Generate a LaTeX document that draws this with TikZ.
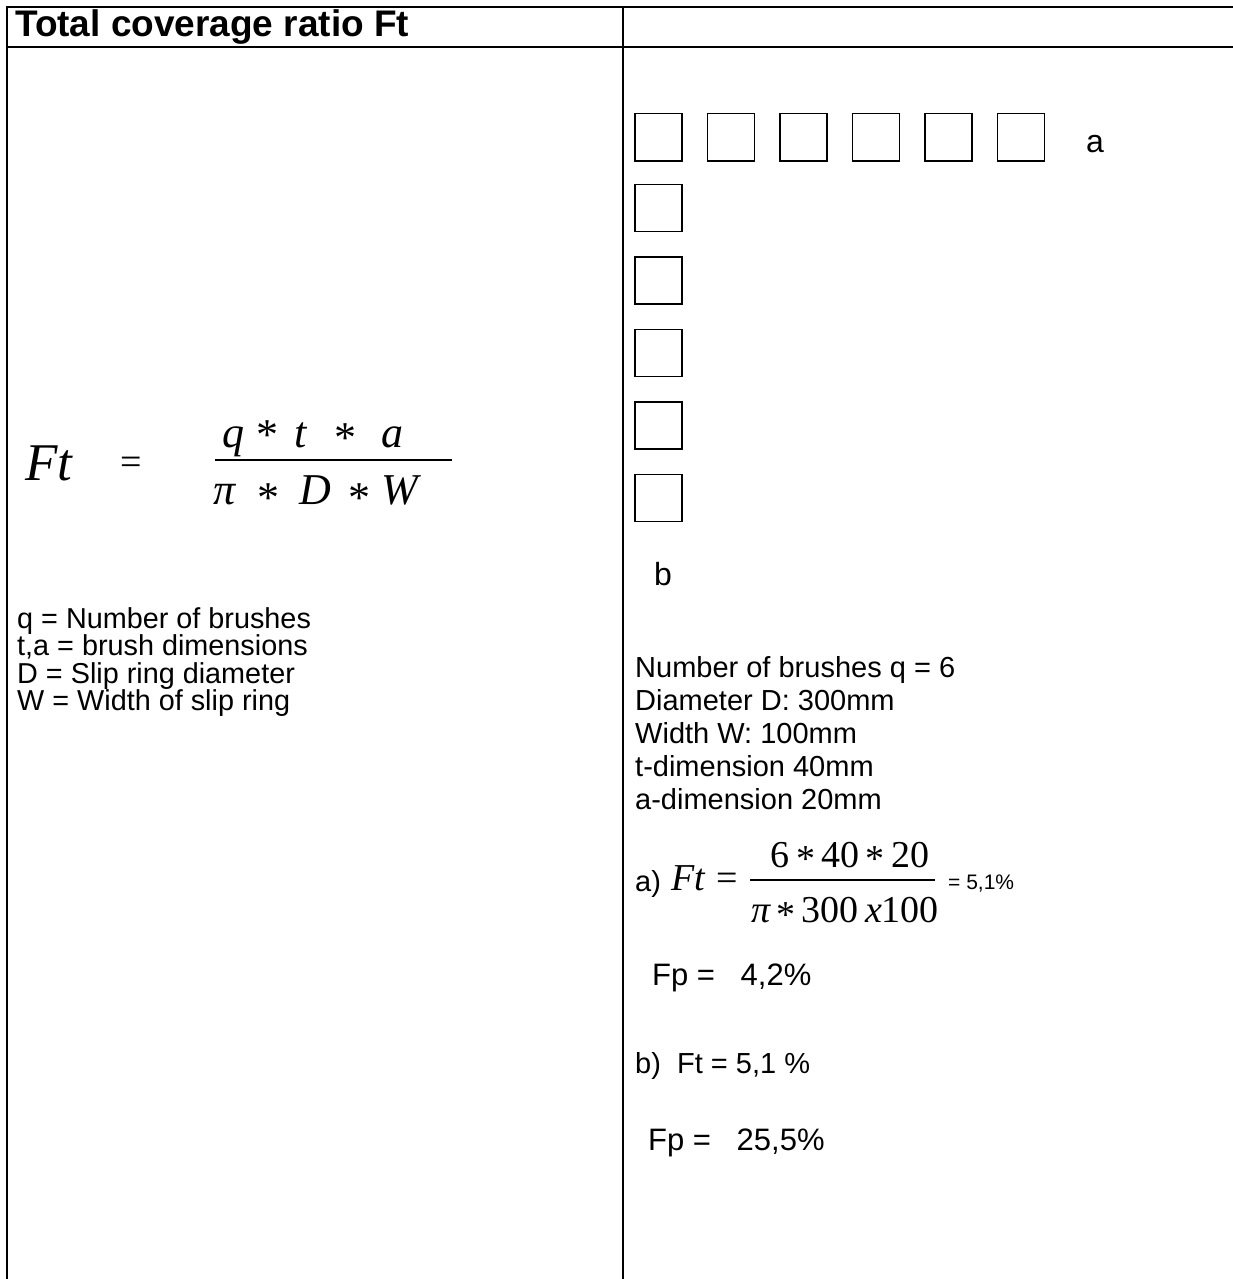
\documentclass[tikz,border=0pt]{standalone}
\usepackage{fontspec}
\setmainfont{Liberation Sans}
\newfontfamily\serifmath{Liberation Serif}
\usetikzlibrary{positioning, calc}
\newcommand{\mstar}[1][0.2em]{\raisebox{-#1}{*}}
\tikzset{
  rule/.style={line width=2.2pt, color=black, line cap=rect},
  fracbar/.style={line width=1.5pt, color=black},
  brush/.style={rectangle, draw=black, line width=1.5pt,
    minimum size=47pt, inner sep=0pt},
  titletext/.style={font=\fontsize{37}{40}\selectfont\bfseries, inner sep=0pt},
  bodytext/.style={font=\fontsize{29}{33}\selectfont, inner sep=0pt},
  legendtext/.style={font=\fontsize{28.8}{30}\selectfont, inner sep=0pt},
  fptext/.style={font=\fontsize{31}{34}\selectfont, inner sep=0pt},
  smalltext/.style={font=\fontsize{21}{24}\selectfont, inner sep=0pt},
  dimlabel/.style={font=\fontsize{32}{36}\selectfont, inner sep=0pt},
  eqn/.style={font=\fontsize{44}{46}\serifmath\itshape, inner sep=0pt},
  eqnup/.style={font=\fontsize{38}{40}\serifmath, inner sep=0pt},
  eqnbig/.style={font=\fontsize{38}{40}\serifmath\itshape, inner sep=0pt}
}

\begin{document}
\begin{tikzpicture}[x=1pt, y=-1pt]
  \useasboundingbox (0,0) rectangle (1232,1279);

  % Table rules
  \coordinate (tl) at (7,7);
  \coordinate (tr) at (1232,7);
  \coordinate (hl) at (7,47);
  \coordinate (hr) at (1232,47);
  \coordinate (bl) at (7,1279);
  \coordinate (mt) at (623,7);
  \coordinate (mb) at (623,1279);
  \draw[rule] (tl) -- (tr);
  \draw[rule] (hl) -- (hr);
  \draw[rule] (tl) -- (bl);
  \draw[rule] (mt) -- (mb);

  \node[titletext, anchor=base west] (title) at (15,37) {Total coverage ratio Ft};

  % Left cell: formula
  \node[eqn, font=\fontsize{53}{55}\serifmath\itshape, anchor=base west] (ftL) at (25,480) {Ft};
  \node[eqnup, anchor=base] (eqL) at (131,474) {=};
  \coordinate (barLw) at (215,460);
  \coordinate (barLe) at (452,460);
  \draw[fracbar] (barLw) -- (barLe);
  \node[eqn, anchor=base] (nq) at (233,447) {q};
  \node[eqn, anchor=base] (ns1) at (267,447) {\upshape\mstar[0.06em]};
  \node[eqn, anchor=base] (nt) at (301,447) {t};
  \node[eqn, anchor=base] (ns2) at (345,447) {\upshape\mstar[0.12em]};
  \node[eqn, anchor=base] (na) at (392,447) {a};
  \node[eqn, anchor=base] (dpi) at (225,504) {π};
  \node[eqn, anchor=base] (ds1) at (268,504) {\upshape\mstar[0.2em]};
  \node[eqn, anchor=base] (dD) at (315,504) {D};
  \node[eqn, anchor=base] (ds2) at (359,504) {\upshape\mstar[0.2em]};
  \node[eqn, anchor=base] (dW) at (400,504) {W};

  % Left cell: legend
  \node[legendtext, anchor=base west] (lg1) at (17,628) {q = Number of brushes};
  \node[legendtext, anchor=base west] (lg2) at (17,655.5) {t,a = brush dimensions};
  \node[legendtext, anchor=base west] (lg3) at (17,683) {D = Slip ring diameter};
  \node[legendtext, anchor=base west] (lg4) at (17,710.5) {W = Width of slip ring};

  % Right cell: brushes
  \node[brush, anchor=north west] (r1) at (634,113) {};
  \node[brush, right=24pt of r1] (r2) {};
  \node[brush, right=24pt of r2] (r3) {};
  \node[brush, right=24pt of r3] (r4) {};
  \node[brush, right=24pt of r4] (r5) {};
  \node[brush, right=24pt of r5] (r6) {};
  \node[brush, below=22pt of r1] (c1) {};
  \node[brush, below=24pt of c1] (c2) {};
  \node[brush, below=24pt of c2] (c3) {};
  \node[brush, below=24pt of c3] (c4) {};
  \node[brush, below=24pt of c4] (c5) {};
  \node[dimlabel, anchor=base west] (la) at (1086,152) {a};
  \node[dimlabel, anchor=base west] (lb) at (654,585) {b};

  % Right cell: data
  \node[bodytext, anchor=base west] (d1) at (635,677) {Number of brushes q = 6};
  \node[bodytext, anchor=base west] (d2) at (635,710) {Diameter D: 300mm};
  \node[bodytext, anchor=base west] (d3) at (635,743) {Width W: 100mm};
  \node[bodytext, anchor=base west] (d4) at (635,776) {t-dimension 40mm};
  \node[bodytext, anchor=base west] (d5) at (635,809) {a-dimension 20mm};

  % Right cell: worked example
  \node[bodytext, anchor=base west] (ca) at (635,891) {a)};
  \node[eqnbig, anchor=base west] (ftR) at (671,890) {Ft};
  \node[eqnup, anchor=base] (eqR) at (727,890) {=};
  \coordinate (barRw) at (750,880);
  \coordinate (barRe) at (935,880);
  \draw[fracbar] (barRw) -- (barRe);
  \node[eqnup, anchor=base] (numR) at (850,867) {6\,\mstar[0.12em]\,40\,\mstar[0.12em]\,20};
  \node[eqnup, anchor=base] (denR) at (845,922) {\itshape π\,\upshape\mstar[0.15em]\,300\,\textit{x}100};
  \node[smalltext, anchor=base west] (resR) at (948,889) {= 5,1\%};
  \node[fptext, anchor=base west] (fpa) at (652,985) {Fp = \hspace{0.55em}4,2\%};
  \node[bodytext, anchor=base west] (cb) at (635,1073) {b) \ Ft = 5,1 \%};
  \node[fptext, anchor=base west] (fpb) at (648,1150) {Fp = \hspace{0.55em}25,5\%};
\end{tikzpicture}
\end{document}
